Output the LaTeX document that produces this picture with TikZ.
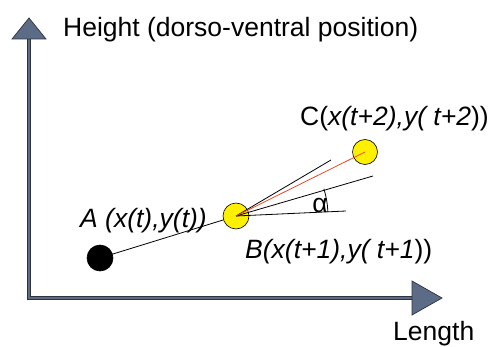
\documentclass[tikz,border=0pt]{standalone}
\usepackage{fontspec}
\setmainfont{Liberation Sans}
\usetikzlibrary{positioning}
\definecolor{axisblue}{RGB}{92,108,135}
\definecolor{axisedge}{RGB}{45,50,60}
\definecolor{dotyellow}{RGB}{255,240,0}
\definecolor{redline}{RGB}{240,70,30}

\begin{document}
\begin{tikzpicture}[x=1pt, y=-1pt,
        every node/.style={font=\fontsize{26.5}{30}\selectfont, inner sep=0pt},
        axis/.style={draw=axisedge, line width=0.7pt, double=axisblue, double distance=2.2pt},
        axishead/.style={draw=axisedge, line width=0.7pt, fill=axisblue, line join=miter},
        dot/.style={circle, draw=black, line width=0.6pt, minimum size=26pt},
        trace/.style={line width=0.8pt},
        lbl/.style={anchor=base west}
    ]
        \useasboundingbox (0,0) rectangle (494,347);

        % Axes
        \coordinate (origin) at (29,298);
        \coordinate (ytop) at (29,39);
        \coordinate (xend) at (412,298);
        \draw[axis] (ytop) -- (origin) -- (xend);
        \draw[axishead] ([xshift=-17pt]ytop) -- ([yshift=21pt]ytop) -- ([xshift=17pt]ytop) -- cycle;
        \draw[axishead] ([yshift=17pt]xend) -- ([xshift=30pt]xend) -- ([yshift=-17pt]xend) -- cycle;
        \node[lbl] (ylabel) at (63,37) {Height (dorso-ventral position)};
        \node[lbl] (xlabel) at (393,340) {Length};

        % Positions
        \coordinate (pA) at (100,258);
        \coordinate (pB) at (236,216);
        \coordinate (pC) at (365,152);
        \coordinate (ext) at (373,176);
        \coordinate (flat) at (346,211);
        \coordinate (upper) at (331,160);

        \draw[trace] (pA) -- (pB);
        \node[dot, fill=black] (A) at (pA) {};
        \node[dot, fill=dotyellow] (B) at (pB) {};
        \node[dot, fill=dotyellow, minimum size=25pt] (C) at (pC) {};

        % Directions from B
        \draw[trace] (B.center) -- (ext);
        \draw[trace] (B.center) -- (flat);
        \draw[trace] (B.center) -- (upper);
        \draw[trace, redline] (B.center) -- (C.center);
        \draw[trace] ([shift={(2.6:92pt)}]B.center) arc[start angle=2.6, end angle=17.2, radius=92pt];
        \node (alpha) at (320,205) {α};

        % Labels
        \node[lbl] (Alabel) at (80,227) {\textit{A (x(t),y(t))}};
        \node[lbl] (Blabel) at (245,258) {\textit{B(x(t+1),y( t+1}))};
        \node[lbl] (Clabel) at (300,126) {C(\textit{x(t+2),y( t+2}))};
    \end{tikzpicture}
\end{document}
